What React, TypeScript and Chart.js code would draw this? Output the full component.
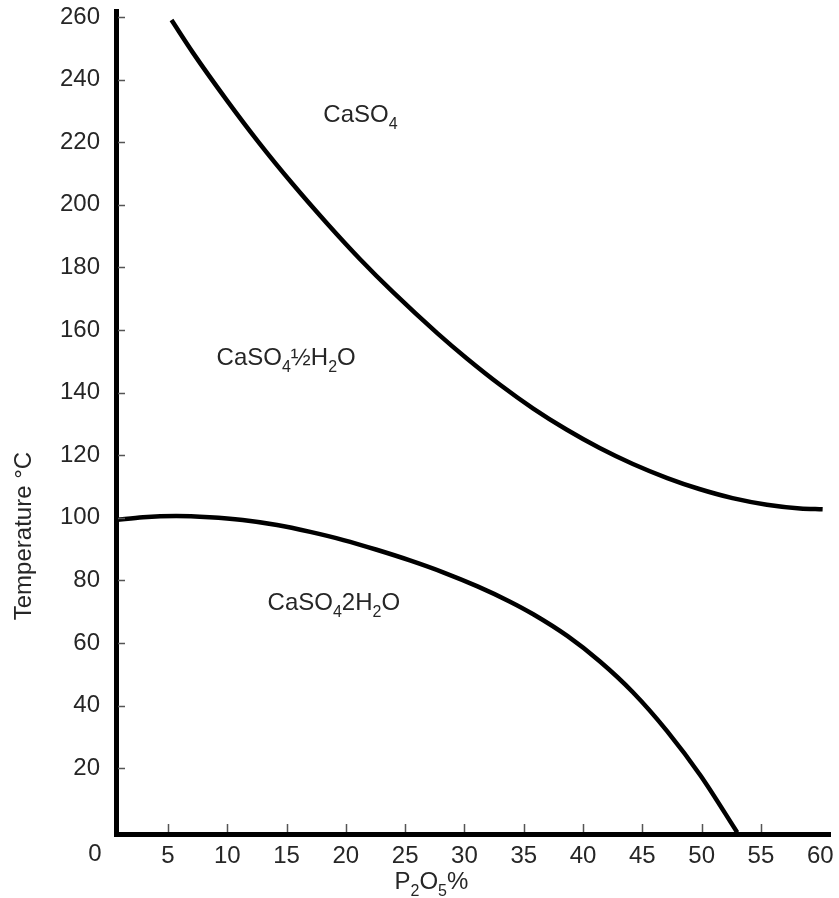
import React, { useEffect, useRef } from 'react';
import { Chart, registerables } from 'chart.js';

Chart.register(...registerables);

// Upper boundary: CaSO4 / CaSO4·½H2O
const UPPER_X = [5.3, 7.1, 10.0, 12.7, 15.5, 18.4, 21.2, 24.0, 27.7, 30.2, 33.0, 35.8, 38.6, 41.4, 44.2, 47.1, 49.8, 52.6, 55.5, 58.3, 60.2];
const UPPER_Y = [259, 248.6, 233.2, 219.7, 206.7, 194.1, 182.6, 172.0, 159.0, 150.9, 142.5, 134.9, 128.2, 122.3, 117.2, 112.7, 109.2, 106.3, 104.2, 103.0, 102.7];

// Lower boundary: CaSO4·½H2O / CaSO4·2H2O
const LOWER_X = [0.62, 2.9, 5.7, 8.5, 11.3, 14.2, 17.0, 19.8, 22.6, 25.4, 28.2, 31.1, 33.8, 35.8, 38.7, 41.4, 44.2, 47.1, 49.9, 53.0];
const LOWER_Y = [99.3, 100.2, 100.6, 100.2, 99.3, 97.7, 95.5, 92.9, 89.8, 86.4, 82.6, 78.1, 73.3, 69.2, 62.2, 54.2, 44.3, 31.8, 17.7, -0.5];

const X_TICKS = [5, 10, 15, 20, 25, 30, 35, 40, 45, 50, 55, 60];
const X_TICK_MARKS = [5, 10, 15, 20, 25, 30, 35, 40, 45, 50, 55];
const Y_TICKS = [20, 40, 60, 80, 100, 120, 140, 160, 180, 200, 220, 240, 260];

const X_MIN = 0.62;
const X_MAX = 60.82;
const Y_MIN = -1;
const Y_MAX = 261.9;

type Part = { t: string; sub?: boolean };

const REGION_LABELS: { x: number; y: number; parts: Part[] }[] = [
  { x: 18.1, y: 226.5, parts: [{ t: 'CaSO' }, { t: '4', sub: true }] },
  { x: 9.1, y: 148.8, parts: [{ t: 'CaSO' }, { t: '4', sub: true }, { t: '½H' }, { t: '2', sub: true }, { t: 'O' }] },
  { x: 13.4, y: 70.5, parts: [{ t: 'CaSO' }, { t: '4', sub: true }, { t: '2H' }, { t: '2', sub: true }, { t: 'O' }] },
];

const X_TITLE: Part[] = [{ t: 'P' }, { t: '2', sub: true }, { t: 'O' }, { t: '5', sub: true }, { t: '%' }];
const Y_TITLE = 'Temperature °C';

const FONT = '"Liberation Sans", Arial, Helvetica, sans-serif';
const MAIN_SIZE = 24;
const SUB_SIZE = 16;
const TEXT_COLOR = '#262626';

function drawRich(ctx: CanvasRenderingContext2D, x: number, y: number, parts: Part[]) {
  ctx.textAlign = 'left';
  ctx.textBaseline = 'alphabetic';
  let cx = x;
  for (const p of parts) {
    ctx.font = `${p.sub ? SUB_SIZE : MAIN_SIZE}px ${FONT}`;
    ctx.fillText(p.t, cx, p.sub ? y + 7 : y);
    cx += ctx.measureText(p.t).width;
  }
}

const overlayPlugin = {
  id: 'overlay',
  afterDatasetsDraw(chart: any) {
    const { ctx, chartArea, scales } = chart;
    const xs = scales.x;
    const ys = scales.y;
    ctx.save();
    // inward tick marks
    ctx.strokeStyle = '#555';
    ctx.lineWidth = 1.5;
    ctx.beginPath();
    for (const v of Y_TICKS) {
      const py = Math.round(ys.getPixelForValue(v)) + 0.5;
      ctx.moveTo(chartArea.left + 2, py);
      ctx.lineTo(chartArea.left + 9, py);
    }
    for (const v of X_TICK_MARKS) {
      const px = Math.round(xs.getPixelForValue(v)) + 0.5;
      ctx.moveTo(px, chartArea.bottom - 2);
      ctx.lineTo(px, chartArea.bottom - 10);
    }
    ctx.stroke();

    ctx.fillStyle = TEXT_COLOR;
    // corner "0"
    ctx.font = `${MAIN_SIZE}px ${FONT}`;
    ctx.textAlign = 'center';
    ctx.textBaseline = 'middle';
    ctx.fillText('0', chartArea.left - 21, chartArea.bottom + 20);

    // region labels
    for (const r of REGION_LABELS) {
      drawRich(ctx, xs.getPixelForValue(r.x), ys.getPixelForValue(r.y), r.parts);
    }

    // x title
    drawRich(ctx, xs.getPixelForValue(24.1), chartArea.bottom + 55, X_TITLE);

    // y title
    ctx.save();
    ctx.translate(24, chartArea.top + 0.638 * (chartArea.bottom - chartArea.top));
    ctx.rotate(-Math.PI / 2);
    ctx.font = `${MAIN_SIZE}px ${FONT}`;
    ctx.textAlign = 'center';
    ctx.textBaseline = 'middle';
    ctx.fillText(Y_TITLE, 0, 0);
    ctx.restore();

    ctx.restore();
  },
};

export default function App() {
  const ref = useRef<HTMLCanvasElement | null>(null);

  useEffect(() => {
    if (!ref.current) return;
    const chart = new Chart(ref.current, {
      type: 'line',
      data: {
        datasets: [
          {
            label: 'upper',
            data: UPPER_X.map((x, i) => ({ x, y: UPPER_Y[i] })),
            borderColor: '#000',
            borderWidth: 4.5,
            pointRadius: 0,
            cubicInterpolationMode: 'monotone',
            borderCapStyle: 'butt',
            fill: false,
          },
          {
            label: 'lower',
            data: LOWER_X.map((x, i) => ({ x, y: LOWER_Y[i] })),
            borderColor: '#000',
            borderWidth: 4.5,
            pointRadius: 0,
            cubicInterpolationMode: 'monotone',
            borderCapStyle: 'butt',
            fill: false,
          },
        ],
      },
      options: {
        animation: false,
        responsive: true,
        maintainAspectRatio: false,
        layout: { padding: { top: 11, right: 9, left: 0, bottom: 0 } },
        plugins: { legend: { display: false }, tooltip: { enabled: false }, title: { display: false } },
        scales: {
          x: {
            type: 'linear',
            min: X_MIN,
            max: X_MAX,
            afterBuildTicks: (s: any) => {
              s.ticks = X_TICKS.map((value) => ({ value }));
            },
            afterFit: (s: any) => {
              s.height = 64;
              s.paddingLeft = 0;
              s.paddingRight = 0;
            },
            grid: { display: true, drawOnChartArea: false, drawTicks: false },
            border: { display: true, color: '#000', width: 5 },
            ticks: {
              autoSkip: false,
              maxRotation: 0,
              padding: 8,
              color: TEXT_COLOR,
              font: { family: FONT, size: MAIN_SIZE },
              callback: (v: any) => String(v),
            },
          },
          y: {
            type: 'linear',
            min: Y_MIN,
            max: Y_MAX,
            afterBuildTicks: (s: any) => {
              s.ticks = Y_TICKS.map((value) => ({ value }));
            },
            afterFit: (s: any) => {
              s.width = 116;
              s.paddingTop = 0;
              s.paddingBottom = 0;
            },
            grid: { display: true, drawOnChartArea: false, drawTicks: false },
            border: { display: true, color: '#000', width: 5 },
            ticks: {
              autoSkip: false,
              padding: 16,
              color: TEXT_COLOR,
              font: { family: FONT, size: MAIN_SIZE },
              callback: (v: any) => String(v),
            },
          },
        },
      },
      plugins: [overlayPlugin],
    } as any);
    return () => chart.destroy();
  }, []);

  return (
    <div style={{ position: 'fixed', left: 0, top: 0, width: 839, height: 898, background: '#fff' }}>
      <canvas ref={ref} />
    </div>
  );
}
